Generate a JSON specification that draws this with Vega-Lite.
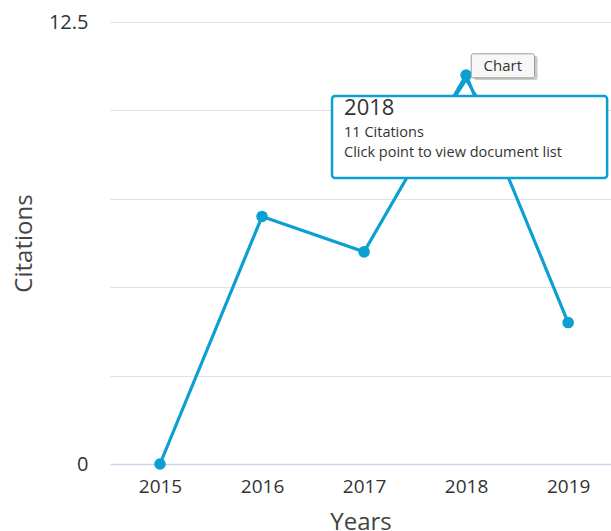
{
  "$schema": "https://vega.github.io/schema/vega-lite/v6.json",
  "width": 501,
  "height": 442,
  "autosize": {"type": "none"},
  "padding": {"left": 110, "top": 22, "right": 0, "bottom": 67},
  "background": "white",
  "config": {"view": {"stroke": null}, "font": "Open Sans"},
  "datasets": {
    "cites": [
      {"year": 2015, "citations": 0},
      {"year": 2016, "citations": 7},
      {"year": 2017, "citations": 6},
      {"year": 2018, "citations": 11},
      {"year": 2019, "citations": 4}
    ],
    "box": [{"x1": 2016.686, "x2": 2019.382, "y1": 8.09, "y2": 10.41}],
    "arrow": [
      {"x": 2017.9, "y": 10.41, "o": 1},
      {"x": 2018.0, "y": 10.86, "o": 2},
      {"x": 2018.1, "y": 10.41, "o": 3}
    ],
    "tiptext": [
      {"x": 2016.804, "y": 9.86, "t": "2018", "s": 22},
      {"x": 2016.804, "y": 9.24, "t": "11 Citations", "s": 14.5},
      {"x": 2016.804, "y": 8.69, "t": "Click point to view document list", "s": 14.5}
    ],
    "btn": [{"x1": 2018.05, "x2": 2018.67, "y1": 10.92, "y2": 11.6, "xs1": 2018.08, "xs2": 2018.70, "ys1": 10.86, "ys2": 11.54, "xc": 2018.36, "yc": 11.26, "t": "Chart"}]
  },
  "layer": [
    {
      "data": {"name": "cites"},
      "mark": {"type": "line", "color": "#0c9fd1", "strokeWidth": 3.2},
      "encoding": {
        "x": {
          "field": "year", "type": "quantitative",
          "scale": {"domain": [2014.51, 2019.42], "nice": false, "zero": false},
          "axis": {
            "values": [2015, 2016, 2017, 2018, 2019], "format": "d",
            "title": "Years", "titleFontSize": 24, "titleFontWeight": "normal", "titleColor": "#444",
            "titlePadding": 14,
            "labelFontSize": 19, "labelColor": "#333", "labelPadding": 13,
            "ticks": false, "grid": false, "domainColor": "#ccd6eb", "domainWidth": 1.5
          }
        },
        "y": {
          "field": "citations", "type": "quantitative",
          "scale": {"domain": [0, 12.5], "nice": false},
          "axis": {
            "values": [0, 2.5, 5, 7.5, 10, 12.5],
            "labelExpr": "datum.value == 0 ? '0' : (datum.value == 12.5 ? '12.5' : '')",
            "title": "Citations", "titleFontSize": 24, "titleFontWeight": "normal", "titleColor": "#444",
            "titlePadding": 12,
            "labelFontSize": 20, "labelColor": "#333", "labelPadding": 22,
            "ticks": false, "domain": false, "gridColor": "#e2e2e2", "gridWidth": 1
          }
        }
      }
    },
    {
      "data": {"name": "cites"},
      "mark": {"type": "point", "filled": true, "color": "#0c9fd1", "size": 135, "opacity": 1},
      "encoding": {
        "x": {"field": "year", "type": "quantitative"},
        "y": {"field": "citations", "type": "quantitative"}
      }
    },
    {
      "data": {"name": "box"},
      "mark": {"type": "rect", "fill": "white", "stroke": "#0c9fd1", "strokeWidth": 2.5, "cornerRadius": 3},
      "encoding": {
        "x": {"field": "x1", "type": "quantitative"},
        "x2": {"field": "x2"},
        "y": {"field": "y1", "type": "quantitative"},
        "y2": {"field": "y2"}
      }
    },
    {
      "data": {"name": "arrow"},
      "mark": {"type": "line", "color": "#0c9fd1", "strokeWidth": 2.5},
      "encoding": {
        "x": {"field": "x", "type": "quantitative"},
        "y": {"field": "y", "type": "quantitative"},
        "order": {"field": "o"}
      }
    },
    {
      "data": {"name": "tiptext"},
      "mark": {"type": "text", "align": "left", "baseline": "alphabetic", "color": "#333"},
      "encoding": {
        "x": {"field": "x", "type": "quantitative"},
        "y": {"field": "y", "type": "quantitative"},
        "text": {"field": "t"},
        "size": {"field": "s", "type": "quantitative", "scale": null}
      }
    },
    {
      "data": {"name": "btn"},
      "mark": {"type": "rect", "fill": "#999", "opacity": 0.5, "cornerRadius": 2},
      "encoding": {
        "x": {"field": "xs1", "type": "quantitative"},
        "x2": {"field": "xs2"},
        "y": {"field": "ys1", "type": "quantitative"},
        "y2": {"field": "ys2"}
      }
    },
    {
      "data": {"name": "btn"},
      "mark": {"type": "rect", "fill": "#f7f7f7", "stroke": "#999", "strokeWidth": 1, "cornerRadius": 2},
      "encoding": {
        "x": {"field": "x1", "type": "quantitative"},
        "x2": {"field": "x2"},
        "y": {"field": "y1", "type": "quantitative"},
        "y2": {"field": "y2"}
      }
    },
    {
      "data": {"name": "btn"},
      "mark": {"type": "text", "align": "center", "baseline": "middle", "fontSize": 15, "color": "#333"},
      "encoding": {
        "x": {"field": "xc", "type": "quantitative"},
        "y": {"field": "yc", "type": "quantitative"},
        "text": {"field": "t"}
      }
    }
  ]
}
